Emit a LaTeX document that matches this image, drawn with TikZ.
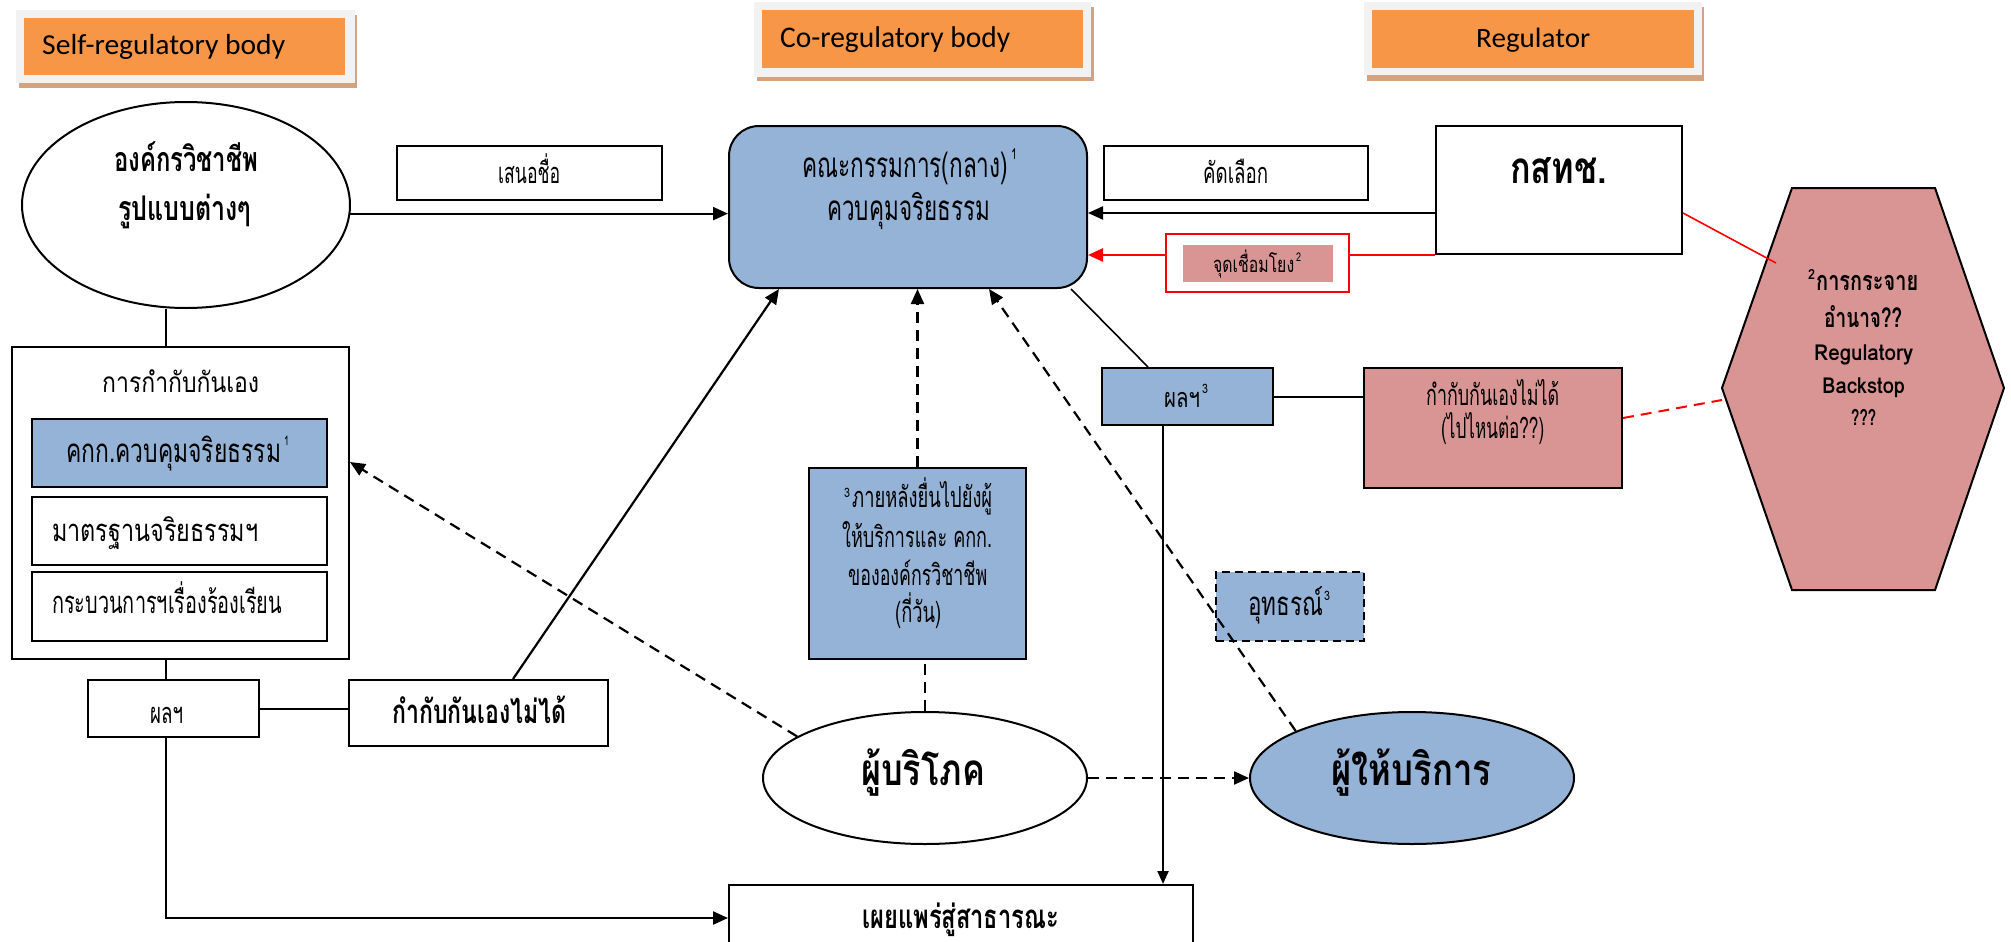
\documentclass[tikz,border=0pt]{standalone}
\usepackage{fontspec}
\usepackage{graphicx}
\setmainfont{Loma}[Script=Thai]
\newfontfamily\lat{Carlito}
\usetikzlibrary{arrows.meta,calc,shapes.geometric}
\definecolor{orng}{HTML}{F79646}
\definecolor{hgrey}{HTML}{F2F2F2}
\definecolor{shad}{HTML}{D3A27F}
\definecolor{blu}{HTML}{95B3D7}
\definecolor{pnk}{HTML}{D99594}
\newcommand\fitt[3]{\resizebox{#1pt}{\height}{\fontsize{#2pt}{#2pt}\selectfont #3}}
\tikzset{
  box/.style={draw, line width=2pt, inner sep=0pt, fill=white},
  txt/.style={inner sep=0pt, anchor=base west},
  arr/.style={line width=2.2pt, -{Triangle[length=15pt,width=13pt]}},
  ln/.style={line width=2pt},
  dsh/.style={dash pattern=on 11pt off 7pt},
  hdr/.style={fill=orng, inner sep=0pt},
}
\begin{document}
\begin{tikzpicture}[x=1pt,y=-1pt]
\clip (0,0) rectangle (2011,942);
\fill[white] (0,0) rectangle (2011,942);

% ---------- headers ----------
\fill[shad] (19,15) rectangle (357,88);
\fill[hgrey] (16,10) rectangle (355,83);
\node[hdr, minimum width=321pt, minimum height=57pt] (h1) at (184.5,46.5) {};
\fill[shad] (757,7) rectangle (1094,81);
\fill[hgrey] (754,2) rectangle (1091,77);
\node[hdr, minimum width=321pt, minimum height=58pt] (h2) at (922.5,39) {};
\fill[shad] (1367,7) rectangle (1704,81);
\fill[hgrey] (1364,2) rectangle (1702,75);
\node[hdr, minimum width=322pt, minimum height=58pt] (h3) at (1533,39) {};
\node[txt] (th1) at (42,55) {\lat\fitt{243}{29}{Self-regulatory body}};
\node[txt] (th2) at (780,48) {\lat\fitt{230}{30}{Co-regulatory body}};
\node[txt] (th3) at (1476,48) {\lat\fitt{114}{28}{Regulator}};

% ---------- shapes ----------
\node[box, ellipse, minimum width=328pt, minimum height=206pt] (E1) at (186,205) {};
\node[box, minimum width=265pt, minimum height=54pt] (nom) at (529.5,173) {};
\node[box, fill=blu, rounded corners=30pt, minimum width=358pt, minimum height=162pt] (CB) at (908,207) {};
\node[box, minimum width=264pt, minimum height=54pt] (sel) at (1236,173) {};
\node[box, minimum width=246pt, minimum height=128pt] (K) at (1559,190) {};

\coordinate (hx1) at (1792,188);
\coordinate (hx2) at (1935,188);
\coordinate (hx3) at (2004,388);
\coordinate (hx4) at (1935,590);
\coordinate (hx5) at (1792,590);
\coordinate (hx6) at (1722,388);
\draw[fill=pnk, line width=2pt] (hx1) -- (hx2) -- (hx3) -- (hx4) -- (hx5) -- (hx6) -- cycle;

\node[box, minimum width=337pt, minimum height=312pt] (SB) at (180.5,503) {};
\node[box, fill=blu, minimum width=295pt, minimum height=68pt] (in1) at (179.5,453) {};
\node[box, minimum width=295pt, minimum height=68pt] (in2) at (179.5,531) {};
\node[box, minimum width=295pt, minimum height=69pt] (in3) at (179.5,606.5) {};
\node[box, minimum width=171pt, minimum height=57pt] (res1) at (173.5,708.5) {};
\node[box, minimum width=259pt, minimum height=66pt] (fail1) at (478.5,713) {};

\node[box, fill=blu, minimum width=171pt, minimum height=57pt] (R3) at (1187.5,396.5) {};
\node[box, fill=pnk, minimum width=258pt, minimum height=120pt] (PB) at (1493,428) {};
\node[box, fill=blu, minimum width=217pt, minimum height=191pt] (BB) at (917.5,563.5) {};
\node[box, fill=blu, dash pattern=on 8pt off 5pt, minimum width=148pt, minimum height=69pt] (app) at (1290,606.5) {};

\node[box, ellipse, minimum width=324pt, minimum height=132pt] (cons) at (925,778) {};
\node[box, ellipse, fill=blu, minimum width=324pt, minimum height=132pt] (prov) at (1412,778) {};
\node[box, minimum width=464pt, minimum height=100pt] (pub) at (961,935) {};

% ---------- connectors ----------
\coordinate (yA) at (0,213);
\coordinate (yP) at (0,918);
\coordinate (ySB) at (0,462);
\coordinate (lx) at (166,0);
\coordinate (hexA) at (1776,263);
\coordinate (hexB) at (1722,400);
\coordinate (cbR) at ($(CB.south east)+(-17,0)$);
\coordinate (r3T) at ($(R3.north west)+(47,0)$);
\coordinate (r3B) at ($(R3.south west)+(62,0)$);
\coordinate (f1T) at ($(fail1.north west)+(165,0)$);
\coordinate (cbB1) at ($(CB.south west)+(51,0)$);
\coordinate (cbB2) at ($(CB.south west)+(261,0)$);
\coordinate (pbR) at ($(PB.east)+(0,-10)$);

\draw[arr] (E1.-3) -- (E1.-3 -| CB.west);
\draw[arr] (K.west |- yA) -- (CB.east |- yA);
\draw[arr, red, line width=2.5pt] (K.south west) -- (CB.east |- K.south west);
\draw[red, line width=1.6pt] (K.east |- yA) -- (hexA);
\draw[red, dsh, line width=2pt] (pbR) -- (hexB);
\draw[ln] (R3.east) -- (R3.east -| PB.west);
\draw[line width=1.6pt] (cbR) -- (r3T);
\draw[arr, -{Triangle[length=13pt,width=11pt]}] (r3B) -- (r3B |- pub.north);

\draw[ln] (E1.south -| lx) -- (SB.north -| lx);
\draw[ln] (SB.south -| lx) -- (res1.north -| lx);
\draw[ln] (res1.east) -- (fail1.west |- res1.east);
\draw[arr] (res1.south -| lx) |- (pub.west |- yP);
\draw[arr] (f1T) -- (cbB1);

\draw[arr, dsh] (cons.162.6) -- (SB.east |- ySB);
\draw[ln, dsh] (cons.north) -- (cons.north |- BB.south);
\draw[arr, dsh] (BB.north) -- (BB.north |- CB.south);
\draw[arr, dsh] (cons.east) -- (prov.west);
\draw[arr, dsh] (prov.158.5) -- (cbB2);

% red link box on top of the red line
\node[draw=red, fill=white, line width=2pt, inner sep=0pt, minimum width=183pt, minimum height=58pt] (redbox) at (1257.5,263) {};
\node[fill=pnk, inner sep=0pt, minimum width=150pt, minimum height=37pt] (pinkin) at (1258,263.5) {};

% ---------- texts ----------
\node[txt] (t1) at (114,171) {\bfseries\fitt{144}{34}{องค์กรวิชาชีพ}};
\node[txt] (t2) at (118,220) {\bfseries\fitt{133}{34}{รูปแบบต่างๆ}};
\node[txt] (t3) at (498,183) {\fitt{62}{29}{เสนอชื่อ}};
\node[txt] (t4) at (802,177) {\fitt{206}{35}{คณะกรรมการ(กลาง)}};
\node[txt] (t4s) at (1011,159) {\fitt{6}{15}{1}};
\node[txt] (t5) at (827,220) {\fitt{163}{35}{ควบคุมจริยธรรม}};
\node[txt] (t6) at (1203,183) {\fitt{65}{29}{คัดเลือก}};
\node[txt] (t7) at (1213,272) {\fitt{81}{22}{จุดเชื่อมโยง}};
\node[txt] (t7s) at (1296,261) {\fitt{5}{12}{2}};
\node[txt] (t8) at (1510,183) {\bfseries\fitt{97}{44}{กสทช.}};

\node[txt] (t9s) at (1808,279) {\bfseries\fitt{7}{14}{2}};
\node[txt] (t9) at (1816,290) {\bfseries\fitt{102}{27}{การกระจาย}};
\node[txt] (t10) at (1824,327) {\bfseries\fitt{78}{27}{อำนาจ??}};
\node[txt] (t11) at (1814,360) {\bfseries\fitt{99}{22}{Regulatory}};
\node[txt] (t12) at (1822,393) {\bfseries\fitt{83}{22}{Backstop}};
\node[txt] (t13) at (1851,425) {\bfseries\fitt{25}{22}{???}};

\node[txt] (t14) at (102,392) {\fitt{157}{28}{การกำกับกันเอง}};
\node[txt] (t15) at (66,462) {\fitt{215}{33}{คกก.ควบคุมจริยธรรม}};
\node[txt] (t15s) at (284,445) {\fitt{5}{13}{1}};
\node[txt] (t16) at (52,541) {\fitt{206}{31}{มาตรฐานจริยธรรมฯ}};
\node[txt] (t17) at (52,613) {\fitt{230}{31}{กระบวนการฯเรื่องร้องเรียน}};
\node[txt] (t18) at (150,723) {\fitt{33}{29}{ผลฯ}};
\node[txt] (t19) at (392,723) {\bfseries\fitt{174}{33}{กำกับกันเองไม่ได้}};

\node[txt] (t20) at (1164,407) {\fitt{36}{27}{ผลฯ}};
\node[txt] (t20s) at (1202,393) {\fitt{6}{13}{3}};
\node[txt] (t21) at (1426,405) {\fitt{133}{29}{กำกับกันเองไม่ได้}};
\node[txt] (t22) at (1441,438) {\fitt{103}{29}{(ไปไหนต่อ??)}};

\node[txt] (t23s) at (844,497) {\fitt{6}{13}{3}};
\node[txt] (t23) at (852,507) {\fitt{140}{29}{ภายหลังยื่นไปยังผู้}};
\node[txt] (t24) at (842,547) {\fitt{150}{29}{ให้บริการและ คกก.}};
\node[txt] (t25) at (848,585) {\fitt{139}{29}{ขององค์กรวิชาชีพ}};
\node[txt] (t26) at (895,622) {\fitt{46}{29}{(กี่วัน)}};
\node[txt] (t27) at (1248,615) {\fitt{75}{33}{อุทธรณ์}};
\node[txt] (t27s) at (1324,600) {\fitt{6}{13}{3}};

\node[txt] (t28) at (861,785) {\bfseries\fitt{124}{44}{ผู้บริโภค}};
\node[txt] (t29) at (1331,785) {\bfseries\fitt{160}{44}{ผู้ให้บริการ}};
\node[txt] (t30) at (862,928) {\bfseries\fitt{197}{33}{เผยแพร่สู่สาธารณะ}};
\end{tikzpicture}
\end{document}
